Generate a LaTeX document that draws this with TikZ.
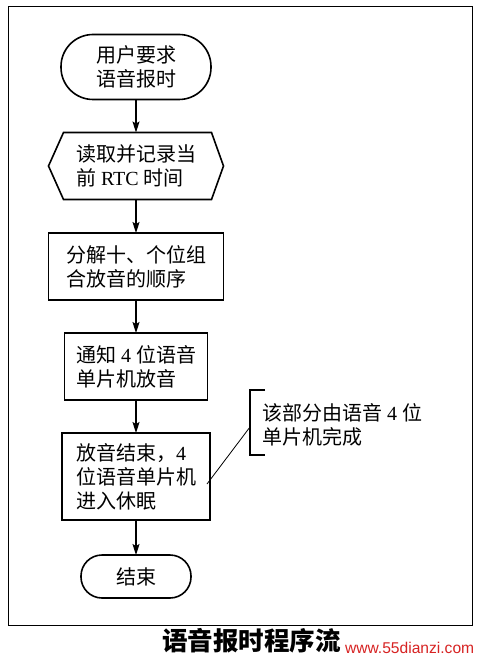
\documentclass[tikz,border=0pt]{standalone}
\usepackage{fontspec}
\setmainfont{Liberation Serif}
\newfontfamily\cjk{Noto Sans CJK SC}
\newfontfamily\wm{Liberation Sans}
\usetikzlibrary{arrows.meta,calc}
\definecolor{wmred}{RGB}{215,35,35}
\begin{document}
\begin{tikzpicture}[x=1pt,y=-1pt,
  every node/.style={inner sep=0pt, outer sep=0pt},
  txt/.style={font=\fontsize{20}{24}\selectfont, align=left},
  boxline/.style={line width=1.6pt},
  arr/.style={-{Stealth[length=11pt,width=7pt,inset=2pt]}, line width=1.1pt},
  thinline/.style={line width=0.8pt}]
\useasboundingbox (0,0) rectangle (480,660);
\fill[white] (0,0) rectangle (480,660);
\draw[thinline] (8,6) rectangle (472,625);
% nodes
\node[txt, draw, boxline, rounded corners=32pt, minimum width=150pt, minimum height=65pt] (n1) at (136,67)
  {\cjk 用户要求\\\cjk 语音报时};
\node[txt, minimum width=175pt, minimum height=67pt] (n2) at (136,166)
  {{\cjk 读取并记录当}\\{\cjk 前} RTC {\cjk 时间}};
\draw[boxline] (n2.west) -- ([xshift=15pt]n2.north west) -- ([xshift=-12pt]n2.north east) -- (n2.east)
  -- ([xshift=-12pt]n2.south east) -- ([xshift=15pt]n2.south west) -- cycle;
\node[txt, draw, boxline, minimum width=175pt, minimum height=67pt] (n3) at (136,266.5)
  {\cjk 分解十、个位组\\\cjk 合放音的顺序};
\node[txt, draw, boxline, minimum width=143pt, minimum height=67pt] (n4) at (136,366.5)
  {{\cjk 通知} 4 {\cjk 位语音}\\\cjk 单片机放音};
\node[txt, draw, boxline, minimum width=148pt, minimum height=87pt] (n5) at (136,476.5)
  {{\cjk 放音结束，}4\\\cjk 位语音单片机\\\cjk 进入休眠};
\node[txt, draw, boxline, rounded corners=21pt, minimum width=110pt, minimum height=43pt] (n6) at (136,576.5)
  {\cjk 结束};
% arrows
\draw[arr] (n1.south) -- (n2.north);
\draw[arr] (n2.south) -- (n3.north);
\draw[arr] (n3.south) -- (n4.north);
\draw[arr] (n4.south) -- (n5.north);
\draw[arr] (n5.south) -- (n6.north);
% annotation
\node[txt, anchor=west] (note) at (262,425) {{\cjk 该部分由语音} 4 {\cjk 位}\\\cjk 单片机完成};
\draw[boxline] (265,390) -- (250,390) -- (250,455) -- (265,455);
\coordinate (lk) at (250,427);
\coordinate (le) at (207,484);
\draw[thinline] (lk) -- (le);
% caption and watermark
\node[anchor=west, font=\cjk\bfseries\fontsize{25.5}{28}\selectfont] (cap) at (162,641) {语音报时程序流};
\node[anchor=west, fill=white, text=wmred, inner sep=1pt, font=\wm\fontsize{15.6}{18}\selectfont] (wmk) at (344,648) {www.55dianzi.com};
\end{tikzpicture}
\end{document}
